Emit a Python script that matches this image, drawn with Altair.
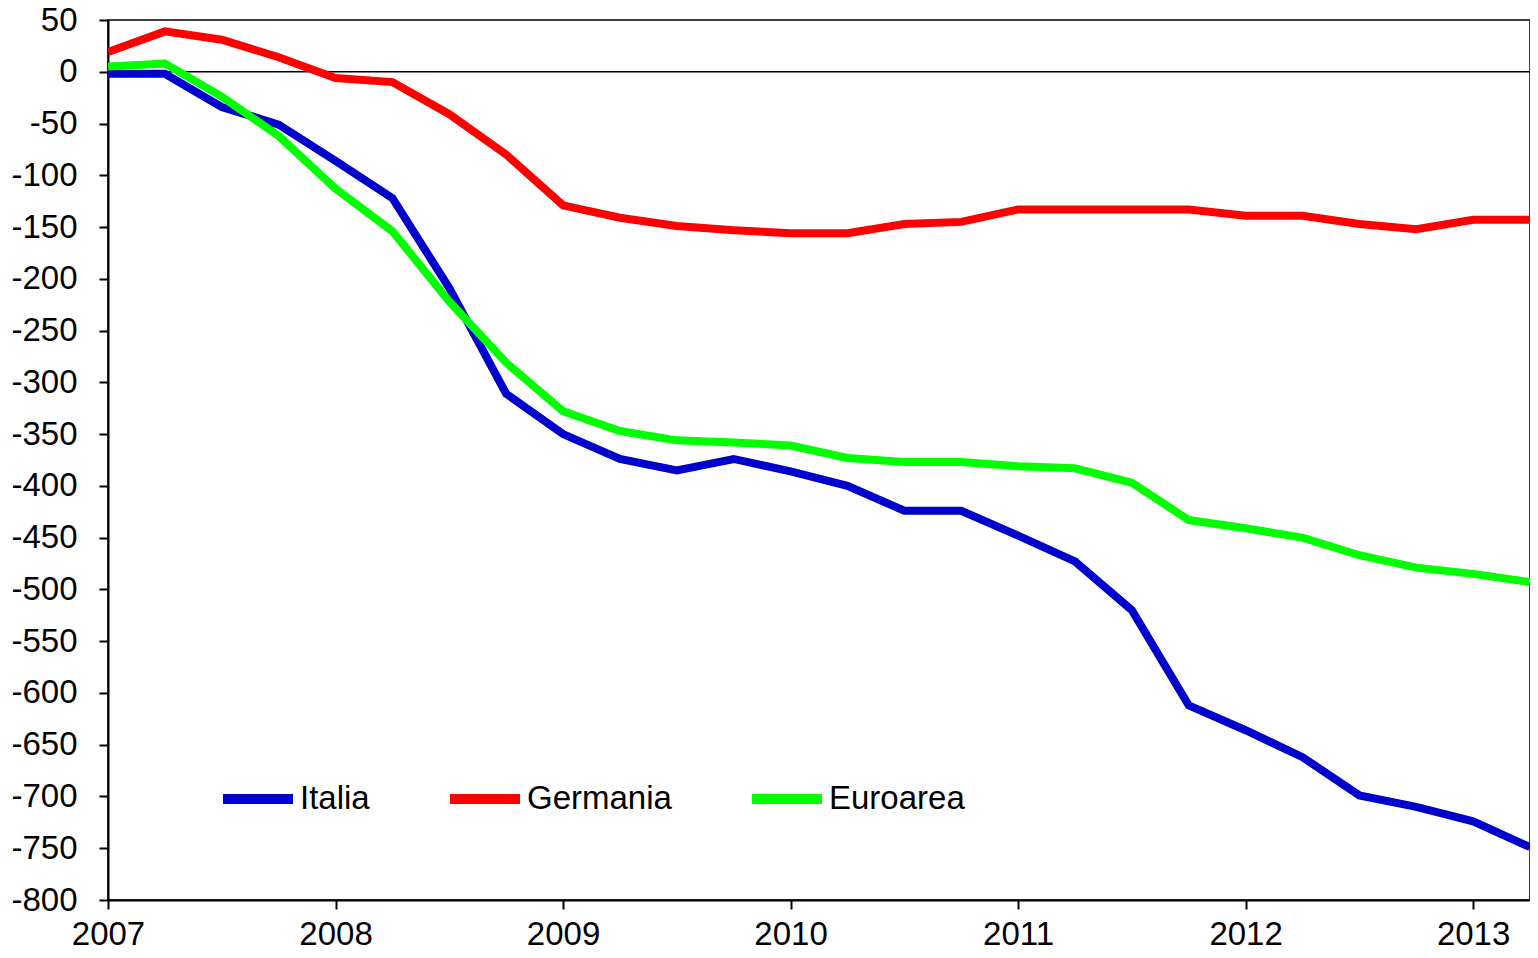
import altair as alt
import pandas as pd

quarters = [2007.0, 2007.25, 2007.5, 2007.75, 2008.0, 2008.25, 2008.5, 2008.75,
            2009.0, 2009.25, 2009.5, 2009.75, 2010.0, 2010.25, 2010.5, 2010.75,
            2011.0, 2011.25, 2011.5, 2011.75, 2012.0, 2012.25, 2012.5, 2012.75,
            2013.0, 2013.25]
italia = [-2, -2, -34, -51, -86, -122, -209, -311, -350, -374, -385, -374, -386,
          -400, -424, -424, -448, -473, -520, -612, -636, -662, -699, -710, -724, -749]
germania = [19, 39, 31, 14, -6, -10, -41, -80, -129, -141, -149, -153, -156,
            -156, -147, -145, -133, -133, -133, -133, -139, -139, -147, -152, -143, -143]
euroarea = [5, 8, -24, -62, -113, -154, -222, -281, -328, -347, -356, -358, -361,
            -373, -377, -377, -381, -383, -397, -433, -441, -450, -467, -479, -485, -493]
series_names = ["Italia", "Germania", "Euroarea"]
series_colors = ["#0000CC", "#FF0000", "#00FF00"]
year_ticks = [2007, 2008, 2009, 2010, 2011, 2012, 2013]
y_ticks = list(range(-800, 51, 50))

rows = []
for name, vals in zip(series_names, [italia, germania, euroarea]):
    for q, v in zip(quarters, vals):
        rows.append({"t": q, "v": v, "serie": name})
df = pd.DataFrame(rows)

FONT = "Liberation Sans"
FS = 33

x = alt.X("t:Q", scale=alt.Scale(domain=[2007, 2013.25], nice=False, zero=False),
          axis=alt.Axis(values=year_ticks, format="d", title=None, grid=False,
                        labelFontSize=FS, labelFont=FONT, labelColor="black",
                        tickSize=9, tickColor="black", tickWidth=2,
                        domainColor="black", domainWidth=2, labelPadding=9,
                        labelFlush=False))
y = alt.Y("v:Q", scale=alt.Scale(domain=[-800, 50], nice=False, zero=False),
          axis=alt.Axis(values=y_ticks, title=None, grid=False,
                        labelExpr="'' + datum.value",
                        labelFontSize=FS, labelFont=FONT, labelColor="black",
                        tickSize=9, tickColor="black", tickWidth=2,
                        domainColor="black", domainWidth=2, labelPadding=22,
                        labelFlush=False))

lines = alt.Chart(df).mark_line(strokeWidth=8, clip=True).encode(
    x=x, y=y,
    color=alt.Color("serie:N",
                    scale=alt.Scale(domain=series_names, range=series_colors),
                    sort=series_names,
                    legend=alt.Legend(
                        title=None, orient="none", direction="horizontal",
                        legendX=110, legendY=739,
                        symbolType="stroke", symbolSize=4900,
                        symbolStrokeWidth=10, labelFontSize=FS, labelFont=FONT,
                        labelColor="black", labelOffset=2, columnPadding=60,
                        symbolOpacity=1)),
    order=alt.Order("t:Q"),
)

zero = alt.Chart(pd.DataFrame({"z": [0]})).mark_rule(color="black", strokeWidth=1.5).encode(
    y=alt.Y("z:Q", scale=alt.Scale(domain=[-800, 50], nice=False, zero=False))
)

chart = alt.layer(zero, lines).properties(
    width=1422, height=880,
    autosize=alt.AutoSizeParams(type="none"),
    padding={"left": 100, "top": 12, "right": 0, "bottom": 50},
    background="white",
).configure_view(stroke="black", strokeWidth=1.5)

chart.save("out.html", embed_options={"renderer": "svg", "actions": False})
